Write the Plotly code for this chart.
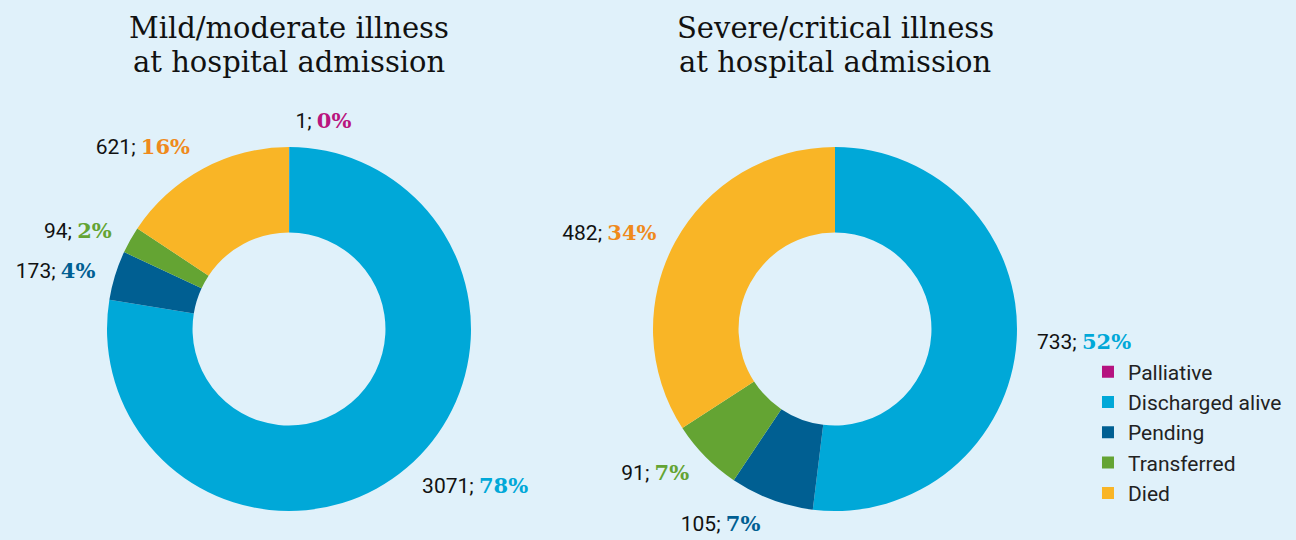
import plotly.graph_objects as go

# categories in legend order
labels_mild = ["Palliative", "Discharged alive", "Pending", "Transferred", "Died"]
values_mild = [1, 3071, 173, 94, 621]
pct_mild = ["0%", "78%", "4%", "2%", "16%"]

labels_severe = ["Discharged alive", "Pending", "Transferred", "Died"]
values_severe = [733, 105, 91, 482]
pct_severe = ["52%", "7%", "7%", "34%"]

title_mild = ["Mild/moderate illness", "at hospital admission"]
title_severe = ["Severe/critical illness", "at hospital admission"]

slice_colors = {"Palliative": "#b5127f", "Discharged alive": "#00a8d8",
                "Pending": "#005f92", "Transferred": "#64a433", "Died": "#f9b526"}
text_colors = {"Palliative": "#b9157e", "Discharged alive": "#00a8d8",
               "Pending": "#005f92", "Transferred": "#64a433", "Died": "#ef8a1c"}

BG = "#e0f1fa"
SERIF = "DejaVu Serif"
W, H = 1296, 540
R = 182          # donut radius in px
LABEL_R = 196    # radius of the invisible pie that carries the labels
CY = 329         # donut centre, px from top


def make_text(labels, values, pcts):
    return [f"{v}; <span style=\"font-family:'{SERIF}';font-weight:bold;color:{text_colors[l]}\">{p}</span>"
            for l, v, p in zip(labels, values, pcts)]


def dom(cx, r):
    return dict(x=[(cx - r) / W, (cx + r) / W], y=[(H - CY - r) / H, (H - CY + r) / H])


fig = go.Figure()
for labels, values, pcts, cx in [
    (labels_mild, values_mild, pct_mild, 289),
    (labels_severe, values_severe, pct_severe, 835),
]:
    # visible donut
    fig.add_trace(go.Pie(
        labels=labels, values=values, textinfo="none",
        marker=dict(colors=[slice_colors[l] for l in labels]),
        hole=0.53, sort=False, direction="clockwise", rotation=0,
        domain=dom(cx, R), showlegend=True,
    ))
    # transparent, slightly larger pie only for the outside labels
    fig.add_trace(go.Pie(
        labels=labels, values=values,
        text=make_text(labels, values, pcts),
        textinfo="text", textposition="outside",
        textfont=dict(family="Roboto", size=21, color="#111111"),
        marker=dict(colors=["rgba(0,0,0,0)"] * len(labels), line=dict(width=0)),
        hole=0.9, sort=False, direction="clockwise", rotation=0,
        domain=dom(cx, LABEL_R), showlegend=False, hoverinfo="skip",
    ))

for cx, lines in [(289, title_mild), (835, title_severe)]:
    for j, line in enumerate(lines):
        fig.add_annotation(text=line, x=cx / W, y=(H - 28 - 34 * j) / H,
                           xref="paper", yref="paper",
                           xanchor="center", yanchor="middle", showarrow=False,
                           font=dict(family=SERIF, size=29, color="#111111"))

fig.update_layout(
    width=W, height=H,
    paper_bgcolor=BG, plot_bgcolor=BG,
    margin=dict(l=0, r=0, t=0, b=0, autoexpand=False),
    legend=dict(x=0.8395, y=0.349, xanchor="left", yanchor="top",
                font=dict(family="Roboto", size=21, color="#222222"),
                bgcolor="rgba(0,0,0,0)", traceorder="normal"),
)

fig.write_html("out.html", config={"displayModeBar": False},
               post_script="document.body.style.margin='0';")
